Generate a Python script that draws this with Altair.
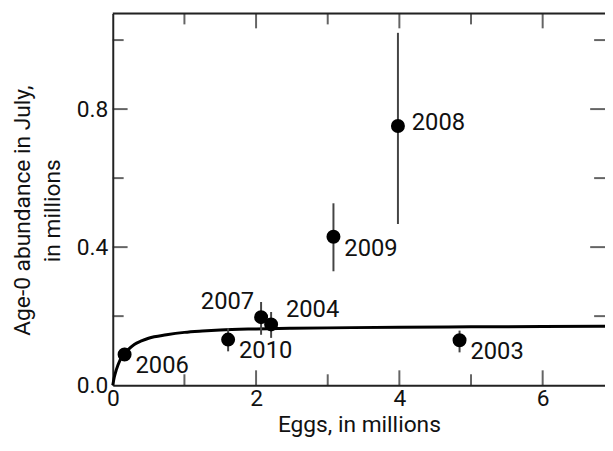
import altair as alt
import pandas as pd

# ---- data ----
years = ["2003", "2004", "2006", "2007", "2008", "2009", "2010"]
eggs = [4.84, 2.21, 0.165, 2.07, 3.98, 3.08, 1.61]
abundance = [0.130, 0.176, 0.089, 0.197, 0.751, 0.430, 0.132]
err_low = [0.095, 0.137, 0.070, 0.146, 0.467, 0.330, 0.098]
err_high = [0.158, 0.212, 0.108, 0.241, 1.021, 0.527, 0.165]
placement = ["br", "ar", "br", "al", "r", "br", "br"]

curve_x = [0.0, 0.02, 0.05, 0.1, 0.15, 0.2, 0.3, 0.4, 0.5, 0.75, 1.0, 1.25, 1.5,
           2.0, 2.5, 3.0, 4.0, 5.0, 6.0, 6.87]
curve_y = [0.0, 0.022, 0.045, 0.072, 0.089, 0.100, 0.118, 0.128, 0.136, 0.146,
           0.153, 0.157, 0.160, 0.163, 0.165, 0.166, 0.168, 0.169, 0.170, 0.171]

x_major = [0, 2, 4, 6]
x_minor = [1, 3, 5]
y_major = [0.0, 0.4, 0.8]
y_minor = [0.2, 0.6, 1.0]

XMAX = 6.87
YMAX = 1.077
W, H = 498, 376
FONT = "Roboto"

pts = pd.DataFrame({"year": years, "eggs": eggs, "ab": abundance,
                    "lo": err_low, "hi": err_high, "pl": placement})
curve = pd.DataFrame({"x": curve_x, "y": curve_y})

xs = alt.Scale(domain=[0, XMAX], nice=False, zero=False)
ys = alt.Scale(domain=[0, YMAX], nice=False, zero=False)

x_axis = alt.Axis(values=x_major, format="d", ticks=False, domainWidth=2,
                  domainColor="#222", labelFontSize=23, labelFont=FONT,
                  labelColor="#111", labelPadding=3, title="Eggs, in millions",
                  titleFontSize=23, titleFont=FONT, titleFontWeight="normal",
                  titleColor="#111", titlePadding=3, grid=False, labelFlush=False)
y_axis = alt.Axis(values=y_major, format=".1f", ticks=False, domainWidth=2,
                  domainColor="#222", labelFontSize=23, labelFont=FONT,
                  labelColor="#111", labelPadding=5,
                  title=["Age-0 abundance in July,", "in millions"],
                  titleFontSize=23, titleFont=FONT, titleFontWeight="normal",
                  titleColor="#111", titleLineHeight=30, titleAngle=270,
                  titleX=-102, titleY=H / 2 + 11, titleAlign="center",
                  titleBaseline="top", grid=False, labelFlush=False)

line = alt.Chart(curve).mark_line(color="black", strokeWidth=3,
                                  interpolate="monotone").encode(
    x=alt.X("x:Q", scale=xs, axis=x_axis),
    y=alt.Y("y:Q", scale=ys, axis=y_axis))

errs = alt.Chart(pts).mark_rule(color="#444", strokeWidth=2).encode(
    x=alt.X("eggs:Q", scale=xs), y=alt.Y("lo:Q", scale=ys), y2="hi:Q")

dots = alt.Chart(pts).mark_circle(color="black", opacity=1, size=200).encode(
    x=alt.X("eggs:Q", scale=xs), y=alt.Y("ab:Q", scale=ys))

offsets = {"br": (11, 12, "left"), "r": (14, -3, "left"),
           "al": (-7, -15, "right"), "ar": (15, -14, "left")}
labels = []
for key, (dx, dy, al) in offsets.items():
    labels.append(alt.Chart(pts).transform_filter(alt.datum.pl == key).mark_text(
        dx=dx, dy=dy, align=al, baseline="middle", fontSize=24, font=FONT,
        color="#111").encode(x=alt.X("eggs:Q", scale=xs),
                             y=alt.Y("ab:Q", scale=ys), text="year:N"))

def xticks(vals, size, at_top):
    df = pd.DataFrame({"v": vals})
    off = size / 2 if at_top else -size / 2
    return alt.Chart(df).mark_tick(orient="vertical", size=size, thickness=2,
                                   color="#222", yOffset=off).encode(
        x=alt.X("v:Q", scale=xs), y=alt.datum(YMAX if at_top else 0.0))

def yticks(vals, size, at_right):
    df = pd.DataFrame({"v": vals})
    off = -size / 2 if at_right else size / 2
    return alt.Chart(df).mark_tick(orient="horizontal", size=size, thickness=2,
                                   color="#222", xOffset=off).encode(
        y=alt.Y("v:Q", scale=ys), x=alt.datum(XMAX if at_right else 0.0))

top_line = alt.Chart(pd.DataFrame({"a": [0.0], "b": [XMAX], "c": [YMAX]})).mark_rule(
    color="#222", strokeWidth=2).encode(
    x=alt.X("a:Q", scale=xs), x2="b:Q", y=alt.Y("c:Q", scale=ys))

ticks = [xticks([v for v in x_major if v > 0], 15, False), xticks(x_minor, 11, False),
         xticks([v for v in x_major if v > 0], 15, True), xticks(x_minor, 11, True),
         yticks([v for v in y_major if v > 0], 15, False), yticks(y_minor, 11, False),
         yticks([v for v in y_major if v > 0], 15, True), yticks(y_minor, 11, True)]

chart = alt.layer(line, top_line, *ticks, errs, dots, *labels).properties(
    width=W, height=H,
    autosize=alt.AutoSizeParams(type="none"),
    padding={"left": 106, "top": 3, "right": 0, "bottom": 60},
).configure_view(stroke=None).configure(background="white")

chart.save("out.html", embed_options={"renderer": "svg", "actions": False})
